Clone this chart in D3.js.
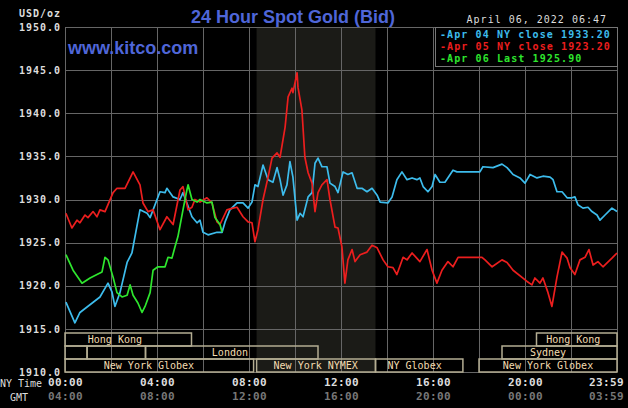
<!DOCTYPE html>
<html>
<meta charset="utf-8">
<style>
  body { margin: 0; background: #000; }
  svg { display: block; }
</style>
<script src="https://d3js.org/d3.v7.min.js"></script>
<body>
<script>
  var svgWidth = 628, svgHeight = 408;

  // axis ticks
  var priceTicks = [1910, 1915, 1920, 1925, 1930, 1935, 1940, 1945, 1950];
  var hourTicks = [0, 4, 8, 12, 16, 20, 23.983];
  var nyLabels = ["00:00", "04:00", "08:00", "12:00", "16:00", "20:00", "23:59"];
  var gmtLabels = ["04:00", "08:00", "12:00", "16:00", "20:00", "00:00", "03:59"];

  // Apr 04 (blue)
  var apr04Hours = [0.04,0.43,0.65,1.52,1.87,2.04,2.17,2.39,2.70,2.91,3.26,3.57,3.70,4.13,4.35,4.43,4.70,5.00,5.13,5.30,5.52,5.74,5.87,6.00,6.22,6.61,6.83,6.96,7.17,7.48,7.74,7.96,8.13,8.26,8.39,8.61,8.83,9.04,9.22,9.35,9.48,9.65,9.78,9.91,10.09,10.22,10.35,10.57,10.74,10.87,11.00,11.17,11.39,11.52,11.74,11.87,12.09,12.30,12.48,12.70,12.91,13.13,13.35,13.57,13.70,14.04,14.22,14.43,14.65,14.87,15.09,15.30,15.43,15.57,15.78,15.96,16.09,16.30,16.52,16.87,17.04,18.04,18.17,18.61,19.00,19.22,19.48,19.78,20.00,20.22,20.52,20.78,21.09,21.22,21.39,21.61,21.83,22.04,22.17,22.30,22.52,22.74,22.91,23.13,23.26,23.48,23.78,24.0];
  var apr04Prices = [1918.1,1915.7,1916.9,1918.7,1920.3,1919.3,1917.6,1919.2,1922.7,1923.8,1928.8,1928.4,1927.9,1930.9,1930.8,1931.3,1930.3,1930.0,1930.8,1929.6,1928.0,1927.3,1927.6,1926.2,1925.9,1926.2,1926.2,1927.4,1928.8,1929.6,1929.6,1929.0,1929.7,1931.7,1931.5,1934.0,1932.3,1932.0,1933.7,1932.3,1930.5,1931.7,1934.4,1932.6,1927.6,1928.4,1928.0,1930.3,1930.8,1934.2,1934.8,1933.8,1933.8,1931.9,1931.5,1930.8,1933.2,1932.9,1933.1,1931.3,1931.3,1930.9,1931.3,1930.5,1929.7,1929.6,1930.3,1932.3,1933.2,1932.3,1932.5,1932.3,1932.5,1931.5,1930.9,1931.5,1932.9,1932.0,1932.0,1933.4,1933.2,1933.2,1933.8,1933.7,1934.1,1933.7,1932.9,1932.5,1931.9,1932.9,1932.5,1932.7,1932.6,1932.3,1930.9,1930.9,1930.2,1930.2,1930.3,1929.4,1929.0,1929.1,1928.6,1928.2,1927.6,1928.2,1929.0,1928.6];

  // Apr 05 (red)
  var apr05Hours = [0.04,0.30,0.52,0.65,0.87,1.00,1.22,1.39,1.52,1.74,2.09,2.26,2.61,2.96,3.26,3.39,3.61,3.83,4.13,4.43,4.70,5.00,5.13,5.35,5.52,5.65,5.87,6.17,6.39,6.61,6.74,7.04,7.30,7.48,7.74,7.96,8.13,8.26,8.39,8.61,8.83,9.00,9.22,9.35,9.57,9.70,9.87,9.91,10.09,10.13,10.30,10.43,10.57,10.74,10.87,11.00,11.17,11.39,11.52,11.74,11.87,12.04,12.17,12.30,12.48,12.61,12.83,13.13,13.35,13.57,13.83,14.04,14.26,14.43,14.70,14.87,15.09,15.43,15.74,15.96,16.17,16.39,16.65,16.87,17.09,18.13,18.26,18.57,19.00,19.22,19.48,20.09,20.30,20.43,20.65,20.78,21.00,21.17,21.39,21.61,21.83,21.96,22.17,22.39,22.61,22.78,22.96,23.17,23.39,23.78,24.0];
  var apr05Prices = [1928.4,1926.7,1927.6,1927.3,1928.2,1927.9,1928.6,1928.0,1928.8,1928.6,1930.8,1931.3,1931.3,1933.2,1931.7,1929.6,1928.6,1928.8,1926.5,1928.0,1927.1,1931.1,1931.5,1928.8,1929.1,1930.0,1929.7,1930.2,1929.6,1927.4,1927.1,1928.8,1929.0,1929.1,1928.0,1927.4,1927.3,1925.1,1926.5,1930.0,1932.6,1934.8,1935.4,1934.9,1938.4,1941.9,1942.9,1942.4,1944.7,1943.0,1940.4,1934.9,1933.1,1931.9,1928.6,1930.8,1931.7,1932.3,1930.0,1926.8,1926.7,1924.5,1920.3,1923.0,1924.2,1922.8,1923.6,1923.9,1924.7,1924.4,1923.0,1922.2,1922.1,1921.3,1923.3,1923.0,1923.8,1922.8,1924.2,1921.8,1920.3,1921.8,1922.8,1922.2,1923.3,1923.3,1923.0,1922.2,1923.0,1922.7,1921.8,1920.5,1920.1,1920.9,1920.3,1920.9,1919.2,1917.6,1921.0,1923.9,1923.2,1922.1,1921.3,1923.0,1923.3,1924.2,1922.4,1922.8,1922.2,1923.2,1923.8];

  // Apr 06 (green, today)
  var apr06Hours = [0.04,0.35,0.74,1.09,1.39,1.61,1.74,1.87,2.09,2.26,2.48,2.70,2.83,2.96,3.17,3.35,3.48,3.70,3.83,4.04,4.35,4.48,4.65,4.78,4.91,5.13,5.30,5.35,5.52,5.74,5.87,6.17,6.39,6.52,6.74,6.83];
  var apr06Prices = [1923.6,1921.8,1920.3,1920.9,1921.3,1921.6,1923.3,1923.0,1921.0,1919.2,1918.7,1918.9,1920.1,1918.9,1918.0,1916.9,1917.6,1919.2,1921.8,1922.2,1922.2,1923.3,1923.2,1924.5,1925.7,1928.8,1931.1,1931.7,1930.0,1929.7,1930.0,1929.6,1929.7,1927.9,1927.1,1926.2];

  var legendLabels = ["-Apr 04 NY close 1933.20", "-Apr 05 NY close 1923.20", "-Apr 06 Last 1925.90"];
  var seriesColors = ["#3dbcec", "#ec1e1e", "#2ee62e"];

  // market sessions: [row, start, end, label, label centre hour]
  var sessions = [
    [0, 0, 5.5, "Hong Kong", 2.17],
    [0, 20.5, 24, "Hong Kong", 22.1],
    [1, 0, 0.96, "", 0],
    [1, 0.96, 3.5, "", 0],
    [1, 3.5, 11, "London", 7.17],
    [1, 19, 24, "Sydney", 21.0],
    [2, 0, 8.2, "New York Globex", 3.65],
    [2, 8.33, 13.5, "New York NYMEX", 10.9],
    [2, 13.5, 17.3, "NY Globex", 15.2],
    [2, 18, 24, "New York Globex", 21.0]
  ];
  var nymexStart = 8.33, nymexEnd = 13.5;

  var svg = d3.select("body")
    .append("svg")
    .attr("width", svgWidth)
    .attr("height", svgHeight)
    .style("background", "#000");

  var x = d3.scaleLinear().domain([0, 24]).range([65, 617]);
  var y = d3.scaleLinear().domain([1910, 1950]).range([372, 27]);

  var mono = "'DejaVu Sans Mono', 'Liberation Mono', monospace";

  // NYMEX shading
  svg.append("rect")
    .attr("x", x(nymexStart))
    .attr("y", y(1950))
    .attr("width", x(nymexEnd) - x(nymexStart))
    .attr("height", y(1910) - y(1950))
    .attr("fill", "#1b1b17");

  // grid
  var grid = svg.append("g").attr("stroke", "#666").attr("stroke-width", 1);
  grid.selectAll(".hg")
    .data(priceTicks)
    .enter()
    .append("line")
    .attr("x1", x(0)).attr("x2", x(24))
    .attr("y1", function(d){ return Math.round(y(d)) + 0.5; })
    .attr("y2", function(d){ return Math.round(y(d)) + 0.5; });
  grid.selectAll(".vg")
    .data(d3.range(0, 25, 2))
    .enter()
    .append("line")
    .attr("y1", y(1950)).attr("y2", y(1910))
    .attr("x1", function(d){ return Math.round(x(d)) + 0.5; })
    .attr("x2", function(d){ return Math.round(x(d)) + 0.5; });

  // market session boxes
  var rowTop = [333, 346, 359], rowH = 13;
  var sess = svg.append("g");
  sess.selectAll("rect")
    .data(sessions)
    .enter()
    .append("rect")
    .attr("x", function(d){ return x(d[1]); })
    .attr("y", function(d){ return rowTop[d[0]]; })
    .attr("width", function(d){ return x(d[2]) - x(d[1]); })
    .attr("height", rowH)
    .attr("fill", "none")
    .attr("stroke", "#b4ad92")
    .attr("stroke-width", 1.5);
  sess.selectAll("text")
    .data(sessions.filter(function(d){ return d[3]; }))
    .enter()
    .append("text")
    .attr("x", function(d){ return x(d[4]); })
    .attr("y", function(d){ return rowTop[d[0]] + 10; })
    .attr("text-anchor", "middle")
    .attr("fill", "#f3dcb0")
    .style("font", "10px " + mono)
    .text(function(d){ return d[3]; });

  // price lines
  var line = d3.line()
    .x(function(d){ return x(d[0]); })
    .y(function(d){ return y(d[1]); });
  var series = [
    d3.zip(apr04Hours, apr04Prices),
    d3.zip(apr05Hours, apr05Prices),
    d3.zip(apr06Hours, apr06Prices)
  ];
  svg.selectAll(".series")
    .data(series)
    .enter()
    .append("path")
    .attr("class", "series")
    .attr("d", line)
    .attr("fill", "none")
    .attr("stroke", function(d, i){ return seriesColors[i]; })
    .attr("stroke-width", 1.7)
    .attr("stroke-linejoin", "round");

  // legend
  var lg = svg.append("g");
  lg.append("rect")
    .attr("x", 435.5).attr("y", 27.5)
    .attr("width", 182).attr("height", 39)
    .attr("fill", "#000")
    .attr("stroke", "#777");
  lg.selectAll("text")
    .data(legendLabels)
    .enter()
    .append("text")
    .attr("x", 440)
    .attr("y", function(d, i){ return 38 + i * 12; })
    .attr("fill", function(d, i){ return seriesColors[i]; })
    .style("font", "bold 10px " + mono)
    .style("letter-spacing", "1.1px")
    .text(function(d){ return d; });

  // y axis labels
  var yAxis = d3.axisLeft(y)
    .tickValues(priceTicks)
    .tickFormat(d3.format(".1f"))
    .tickSize(0)
    .tickPadding(4);
  var ya = svg.append("g")
    .attr("transform", "translate(65,0)")
    .call(yAxis);
  ya.select(".domain").remove();
  ya.selectAll("text")
    .attr("fill", "#ddd")
    .style("font", "bold 10px " + mono)
    .style("letter-spacing", "1px");

  svg.append("text")
    .attr("x", 61).attr("y", 17)
    .attr("text-anchor", "end")
    .attr("fill", "#ddd")
    .style("font", "bold 10px " + mono)
    .style("letter-spacing", "1px")
    .text("USD/oz");

  // x axis labels (NY time and GMT)
  var xAxisNY = d3.axisBottom(x)
    .tickValues(hourTicks)
    .tickFormat(function(d, i){ return nyLabels[i]; })
    .tickSize(0)
    .tickPadding(0);
  var xa = svg.append("g")
    .attr("transform", "translate(0,378)")
    .call(xAxisNY);
  xa.select(".domain").remove();
  xa.selectAll("text")
    .attr("fill", "#ddd")
    .style("font", "bold 11px " + mono)
    .style("letter-spacing", "0.4px");

  var xAxisGMT = d3.axisBottom(x)
    .tickValues(hourTicks)
    .tickFormat(function(d, i){ return gmtLabels[i]; })
    .tickSize(0)
    .tickPadding(0);
  var xg = svg.append("g")
    .attr("transform", "translate(0,392)")
    .call(xAxisGMT);
  xg.select(".domain").remove();
  xg.selectAll("text")
    .attr("fill", "#777")
    .style("font", "bold 11px " + mono)
    .style("letter-spacing", "0.4px");

  // last label sits inside the window
  [xa, xg].forEach(function(a){
    a.selectAll(".tick").filter(function(d){ return d > 23; })
      .select("text")
      .attr("text-anchor", "end")
      .attr("x", 7);
  });

  svg.append("text")
    .attr("x", 0).attr("y", 387)
    .attr("fill", "#ddd")
    .style("font", "10px " + mono)
    .text("NY Time");
  svg.append("text")
    .attr("x", 10).attr("y", 401)
    .attr("fill", "#ddd")
    .style("font", "10px " + mono)
    .text("GMT");

  // titles
  svg.append("text")
    .attr("x", 293).attr("y", 23)
    .attr("text-anchor", "middle")
    .attr("fill", "#4f66d8")
    .style("font", "bold 18px 'Liberation Sans', Arial, sans-serif")
    .text("24 Hour Spot Gold (Bid)");

  svg.append("text")
    .attr("x", 68).attr("y", 54)
    .attr("fill", "#4f66d8")
    .style("font", "bold 18px 'Liberation Sans', Arial, sans-serif")
    .text("www.kitco.com");

  svg.append("text")
    .attr("x", 607).attr("y", 23)
    .attr("text-anchor", "end")
    .attr("fill", "#ddd")
    .style("font", "10px " + mono)
    .style("letter-spacing", "1px")
    .text("April 06, 2022 06:47");
</script>
</body>
</html>
